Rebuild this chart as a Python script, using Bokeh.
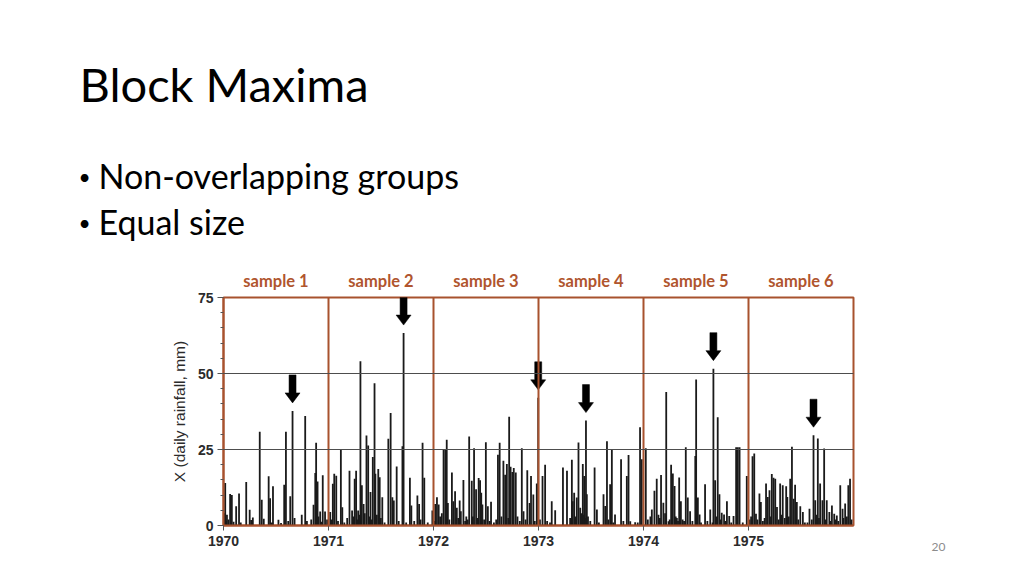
import numpy as np
from bokeh.plotting import figure
from bokeh.layouts import column, row
from bokeh.models import FixedTicker, ColumnDataSource, Range1d
from bokeh.core.properties import value
from bokeh.embed import file_html
from bokeh.resources import INLINE

# ---------------- data (day of year, daily rainfall mm) ----------------
years = [1970, 1971, 1972, 1973, 1974, 1975]
sample_labels = ["sample 1", "sample 2", "sample 3", "sample 4", "sample 5", "sample 6"]

days_1970 = [6, 12, 23, 29, 44, 54, 79, 91, 102, 126, 133, 157, 162, 172, 191, 211, 217, 232, 240, 272,
             284, 313, 319, 322, 327, 336, 345, 353,
             3, 9, 17, 35, 60, 96, 140, 168, 200, 225, 247, 290, 305, 330, 340, 360]
mm_1970 = [14.0, 3.5, 10.4, 10.0, 6.3, 10.5, 14.3, 5.2, 2.6, 30.8, 8.5, 16.2, 9.0, 12.9, 1.9, 13.4, 30.8, 9.6, 37.7, 3.5,
           36.0, 6.8, 17.3, 27.2, 14.5, 4.6, 16.5, 4.6,
           4.0, 1.5, 2.0, 1.2, 1.0, 1.8, 2.2, 1.0, 0.8, 1.5, 2.5, 1.5, 2.0, 3.0, 1.2, 2.0]

days_1971 = [6, 15, 20, 27, 43, 48, 73, 82, 91, 96, 103, 111, 116, 122, 132, 138, 146, 154, 160, 163,
             173, 178, 187, 208, 216, 222, 227, 237, 257, 261, 283, 288, 309, 315, 327, 333, 361,
             10, 33, 55, 65, 86, 100, 107, 126, 142, 150, 168, 182, 195, 244, 270, 298, 320, 345]
mm_1971 = [4.4, 13.7, 17.0, 16.4, 24.9, 6.0, 18.0, 4.9, 15.4, 18.0, 4.9, 54.0, 13.2, 7.1, 29.6, 26.3, 11.0, 22.5, 46.8, 17.0,
           18.6, 15.9, 9.3, 28.5, 37.0, 9.3, 8.2, 19.4, 26.1, 63.3, 15.7, 6.6, 9.9, 7.1, 27.2, 15.7, 4.9,
           2.0, 1.5, 1.0, 2.5, 3.0, 2.0, 3.5, 4.0, 3.0, 2.0, 3.5, 2.5, 1.0, 1.5, 1.0, 1.5, 2.0, 1.0]

days_1972 = [6, 12, 18, 35, 41, 46, 50, 64, 69, 75, 81, 91, 95, 104, 114, 124, 133, 141, 148, 157,
             162, 166, 170, 182, 189, 200, 224, 230, 243, 249, 255, 263, 268, 274, 279, 286, 307, 313,
             326, 334, 339, 347, 359, 364,
             3, 23, 29, 55, 86, 110, 119, 137, 152, 176, 195, 210, 218, 236, 260, 292, 300, 320, 352]
mm_1972 = [7.1, 9.3, 6.9, 24.9, 24.9, 28.2, 7.4, 17.4, 8.0, 11.3, 5.8, 8.2, 4.7, 15.0, 3.0, 29.3, 14.7, 25.4, 11.9, 15.6,
           14.9, 10.8, 6.9, 27.4, 6.3, 7.8, 23.3, 27.2, 21.3, 16.7, 20.2, 35.8, 19.3, 17.6, 18.9, 17.4, 25.4, 4.7,
           18.2, 7.4, 16.3, 10.2, 13.8, 42.0,
           1.5, 3.0, 4.0, 2.0, 2.5, 1.5, 2.0, 3.0, 2.5, 2.0, 1.5, 1.0, 2.0, 3.0, 2.5, 3.0, 1.5, 2.0, 1.5]

days_1973 = [14, 23, 46, 58, 85, 99, 116, 119, 124, 133, 139, 145, 154, 159, 165, 168, 195, 203, 226, 232,
             238, 249, 255, 266, 287, 307, 313, 319, 336, 353, 359,
             5, 30, 40, 110, 128, 150, 156, 162, 172, 180, 210, 243, 260, 295, 345]
mm_1973 = [16.3, 20.0, 8.0, 5.0, 19.1, 18.0, 21.6, 8.0, 10.8, 9.2, 27.3, 5.8, 20.2, 16.3, 34.5, 10.3, 19.1, 5.3, 10.3, 6.4,
           27.7, 13.6, 24.8, 3.6, 21.8, 16.3, 23.2, 1.4, 1.1, 32.3, 21.8,
           2.0, 1.5, 1.0, 2.5, 3.0, 4.0, 3.5, 2.5, 3.0, 1.5, 1.0, 2.0, 1.0, 1.5, 1.0]

days_1974 = [8, 29, 38, 46, 61, 69, 79, 87, 96, 102, 108, 116, 124, 130, 147, 154, 162, 180, 183, 189,
             195, 214, 232, 243, 249, 258, 264, 272, 280, 290, 298, 313, 322, 328, 334, 359,
             15, 24, 52, 57, 75, 91, 112, 120, 136, 141, 170, 200, 222, 240, 253, 268, 285, 305, 345]
mm_1974 = [25.4, 5.3, 11.4, 15.4, 16.6, 7.5, 43.9, 1.4, 20.0, 17.1, 13.0, 2.5, 15.8, 8.0, 25.7, 9.2, 4.7, 22.9, 48.0, 9.2,
           3.6, 13.6, 5.3, 51.6, 14.9, 35.6, 10.3, 4.2, 3.6, 8.0, 3.1, 3.1, 25.7, 25.7, 25.7, 16.3,
           2.0, 3.0, 3.5, 2.5, 4.0, 2.0, 3.0, 1.5, 2.0, 1.5, 1.5, 1.0, 1.5, 1.0, 3.0, 2.0, 1.5, 1.0, 1.0]

days_1975 = [14, 20, 26, 38, 43, 61, 67, 73, 81, 87, 93, 99, 110, 119, 131, 135, 145, 151, 157, 162,
             168, 180, 189, 212, 226, 232, 241, 249, 257, 263, 272, 281, 290, 298, 307, 319, 327, 336, 347, 353,
             4, 9, 31, 50, 56, 78, 105, 115, 126, 140, 173, 196, 205, 220, 237, 245, 268, 285, 302, 312, 330, 342, 358]
mm_1975 = [22.8, 23.7, 3.9, 10.5, 7.7, 13.8, 9.4, 11.6, 16.9, 15.7, 15.4, 6.1, 13.8, 13.2, 12.9, 9.4, 15.4, 25.9, 8.8, 13.4,
           7.7, 6.3, 4.4, 5.5, 29.7, 8.3, 28.6, 13.8, 8.3, 25.3, 8.3, 4.4, 6.6, 3.9, 3.3, 13.2, 5.5, 7.2, 13.2, 15.4,
           2.0, 3.0, 2.0, 1.5, 2.5, 3.0, 2.0, 3.5, 2.5, 3.0, 2.0, 1.0, 1.0, 2.0, 3.5, 2.5, 2.0, 1.5, 2.0, 1.5, 2.5, 3.0, 2.0]

all_days = [days_1970, days_1971, days_1972, days_1973, days_1974, days_1975]
all_mm = [mm_1970, mm_1971, mm_1972, mm_1973, mm_1974, mm_1975]

y_ticks = [0, 25, 50, 75]

title_text = "Block Maxima"
bullet_texts = ["Non-overlapping groups", "Equal size"]
page_number = "20"

# ---------------- layout geometry (page pixels) ----------------
BROWN = "#A8522E"
LABEL_BROWN = "#B0552E"
BAR = "#1a1a1a"

TOTAL_W, TOTAL_H = 1008, 560
TOP_H = 290                      # header strip height
FRAME_L, FRAME_T = 223, 297      # chart frame position on the page
FRAME_W, FRAME_H = 630, 228
CHART_W = 880
CHART_H = TOTAL_H - TOP_H
SIDE_W = TOTAL_W - CHART_W
BORDER_TOP = FRAME_T - TOP_H
BORDER_BOTTOM = CHART_H - BORDER_TOP - FRAME_H

# header strip: pixel coordinates, y grows downward
top = figure(width=TOTAL_W, height=TOP_H, output_backend="svg", toolbar_location=None, title=None,
             x_range=Range1d(0, TOTAL_W), y_range=Range1d(TOP_H, 0),
             min_border=0, x_axis_type=None, y_axis_type=None)
top.grid.visible = False
top.outline_line_color = None

top.text(x=[79], y=[83], text=[title_text], text_font=value("Lato"), text_font_size="47px",
         text_color="black", text_baseline="middle")
top.text(x=[78, 78], y=[176, 222], text=["\u2022", "\u2022"], text_font=value("Lato"), text_font_size="21px",
         text_color="black", text_baseline="middle")
top.text(x=[98, 98], y=[175, 221], text=bullet_texts, text_font=value("Lato"), text_font_size="34px",
         text_color="black", text_baseline="middle")
px_x = FRAME_W / 6.0
sample_cx = [FRAME_L + (yr - years[0] + 0.5) * px_x for yr in years]
top.text(x=sample_cx, y=[280] * len(years), text=sample_labels, text_font=value("Lato"),
         text_font_style="bold", text_font_size="16.5px", text_color=LABEL_BROWN,
         text_align="center", text_baseline="middle")

# ---------------- chart ----------------
p = figure(width=CHART_W, height=CHART_H, output_backend="svg", toolbar_location=None, title=None,
           x_range=Range1d(1970, 1976), y_range=Range1d(0, 75),
           min_border_left=FRAME_L, min_border_top=BORDER_TOP,
           min_border_right=CHART_W - FRAME_L - FRAME_W,
           min_border_bottom=BORDER_BOTTOM)
p.background_fill_color = "white"
p.border_fill_color = "white"
p.outline_line_color = BROWN
p.outline_line_width = 2

xs, ys = [], []
for yr, d, m in zip(years, all_days, all_mm):
    for dd, mm in zip(d, m):
        xs.append(yr + dd / 365.0)
        ys.append(mm)
src = ColumnDataSource(dict(x=xs, y0=[0] * len(xs), y1=ys))
p.segment(x0="x", y0="y0", x1="x", y1="y1", source=src, line_color=BAR, line_width=1.8)

p.ygrid.ticker = FixedTicker(ticks=[25, 50])
p.ygrid.grid_line_color = "#4d4d4d"
p.ygrid.grid_line_width = 1.2
p.ygrid.level = "overlay"
p.xgrid.ticker = FixedTicker(ticks=years[1:])
p.xgrid.grid_line_color = BROWN
p.xgrid.grid_line_width = 2
p.xgrid.level = "overlay"

p.xaxis.ticker = FixedTicker(ticks=years)
p.xaxis.axis_line_color = BROWN
p.xaxis.axis_line_width = 2
p.xaxis.major_tick_line_color = "#555555"
p.xaxis.major_tick_out = 5
p.xaxis.major_tick_in = 0
p.xaxis.minor_tick_line_color = None
p.xaxis.major_label_text_font = "Liberation Sans"
p.xaxis.major_label_text_font_size = "14px"
p.xaxis.major_label_text_font_style = "bold"
p.xaxis.major_label_text_color = "#2b2b2b"
p.xaxis.major_label_standoff = 5

p.yaxis.ticker = FixedTicker(ticks=y_ticks, minor_ticks=list(range(0, 76, 5)))
p.yaxis.axis_line_color = BROWN
p.yaxis.axis_line_width = 2
p.yaxis.major_tick_line_color = "#555555"
p.yaxis.minor_tick_line_color = "#555555"
p.yaxis.major_tick_out = 6
p.yaxis.major_tick_in = 0
p.yaxis.minor_tick_out = 3
p.yaxis.minor_tick_in = 0
p.yaxis.major_label_text_font = "Liberation Sans"
p.yaxis.major_label_text_font_size = "14px"
p.yaxis.major_label_text_font_style = "bold"
p.yaxis.major_label_text_color = "#2b2b2b"
p.yaxis.major_label_standoff = 4
p.yaxis.axis_label = "X (daily rainfall, mm)"
p.yaxis.axis_label_text_font = "Liberation Sans"
p.yaxis.axis_label_text_font_size = "15.5px"
p.yaxis.axis_label_text_font_style = "normal"
p.yaxis.axis_label_text_color = "#2b2b2b"
p.yaxis.axis_label_standoff = 7

# arrows above each block maximum (screen-pixel geometry converted to data units)
px_y = FRAME_H / 75.0
gap, head_h, total, shaft, head = 8, 10, 28, 3.5, 7.5
arr_xs, arr_ys = [], []
for yr, d, m in zip(years, all_days, all_mm):
    i = int(np.argmax(m))
    cx = yr + d[i] / 365.0
    peak = m[i]
    ox = [0, -head, -shaft, -shaft, shaft, shaft, head]
    oy = [gap, gap + head_h, gap + head_h, gap + total, gap + total, gap + head_h, gap + head_h]
    arr_xs.append([cx + v / px_x for v in ox])
    arr_ys.append([peak + v / px_y for v in oy])
p.patches(arr_xs, arr_ys, fill_color="black", line_color="black", line_width=0.5)

# side strip: page number shown as the single tick label of an invisible axis
side = figure(width=SIDE_W, height=CHART_H, output_backend="svg", toolbar_location=None, title=None,
              x_range=Range1d(CHART_W, TOTAL_W), y_range=Range1d(0, 1),
              min_border_left=0, min_border_right=0,
              min_border_top=BORDER_TOP, min_border_bottom=BORDER_BOTTOM, y_axis_type=None)
side.grid.visible = False
side.outline_line_color = None
side.xaxis.ticker = FixedTicker(ticks=[938])
side.xaxis.major_label_overrides = {938: page_number}
side.xaxis.axis_line_color = None
side.xaxis.major_tick_line_color = None
side.xaxis.minor_tick_line_color = None
side.xaxis.major_tick_out = 5
side.xaxis.major_label_standoff = 12
side.xaxis.major_label_text_font = "Lato"
side.xaxis.major_label_text_font_size = "12px"
side.xaxis.major_label_text_color = "#8c8c8c"

layout = column(top, row(p, side, spacing=0), spacing=0)
open("out.html", "w").write(file_html(layout, INLINE))
